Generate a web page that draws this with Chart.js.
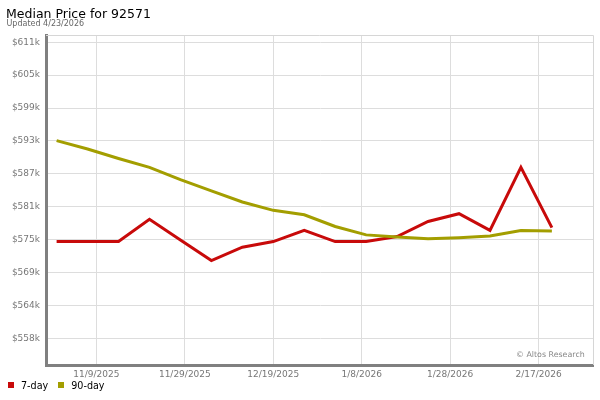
<!DOCTYPE html>
<html>
<head>
<meta charset="utf-8">
<script src="https://cdn.jsdelivr.net/npm/chart.js@4.4.1/dist/chart.umd.min.js"></script>
<style>
  html, body { margin: 0; padding: 0; background: #fff; }
  #wrap { position: relative; width: 600px; height: 400px; font-family: 'DejaVu Sans', sans-serif; }
  #chart { position: absolute; left: 0; top: 0; }
  .title { position: absolute; left: 6px; top: 7.7px; font-size: 12.5px; line-height: 1; color: #000; white-space: nowrap; }
  .subtitle { position: absolute; left: 6.5px; top: 20px; font-size: 8px; line-height: 1; color: #666; white-space: nowrap; }
  .legend { position: absolute; left: 8px; top: 380.5px; font-size: 9.6px; line-height: 1; color: #000; display: flex; white-space: nowrap; }
  .legend .item { display: flex; align-items: center; margin-right: 10px; }
  .legend .box { display: inline-block; width: 6px; height: 6px; margin-right: 7px; }
  .credit { position: absolute; left: 516px; top: 350.5px; font-size: 7.9px; line-height: 1; color: #888; white-space: nowrap; }
</style>
</head>
<body>
<div id="wrap">
  <canvas id="chart" width="600" height="400"></canvas>
  <div class="title">Median Price for 92571</div>
  <div class="subtitle">Updated 4/23/2026</div>
  <div class="legend" id="legend"></div>
  <div class="credit">&copy; Altos Research</div>
</div>
<script>
const pointDates = ['10/31/2025', '11/7/2025', '11/14/2025', '11/21/2025', '11/28/2025', '12/5/2025',
    '12/12/2025', '12/19/2025', '12/26/2025', '1/2/2026', '1/9/2026', '1/16/2026', '1/23/2026',
    '1/30/2026', '2/6/2026', '2/13/2026', '2/20/2026'];
const sevenDay = [575000, 575000, 575000, 579000, 575300, 571600, 574000, 575000, 577000,
    575000, 575000, 575900, 578600, 580000, 577000, 588300, 577500];
const ninetyDay = [593100, 591600, 589900, 588300, 586100, 584100, 582100, 580600, 579800,
    577700, 576200, 575800, 575500, 575700, 576000, 577000, 576900];
const seriesNames = ['7-day', '90-day'];
const seriesColors = ['#c80a0a', '#a39e00'];

const xTickLabels = ['11/9/2025', '11/29/2025', '12/19/2025', '1/8/2026', '1/28/2026', '2/17/2026'];
const yTickValues = [557650, 563550, 569450, 575350, 581250, 587150, 593050, 598950, 604850, 610750];
const yTickLabels = ['$558k', '$564k', '$569k', '$575k', '$581k', '$587k', '$593k', '$599k', '$605k', '$611k'];

function toDay(s) {
    const [m, d, y] = s.split('/').map(Number);
    return Date.UTC(y, m - 1, d) / 86400000;
}

const xTickDays = xTickLabels.map(toDay);
const pointDays = pointDates.map(toDay);

const frame = {
    id: 'frame',
    beforeDatasetsDraw(chart) {
        const { ctx, chartArea: a } = chart;
        ctx.save();
        ctx.strokeStyle = '#d6d6d6';
        ctx.lineWidth = 1;
        ctx.beginPath();
        ctx.moveTo(a.left, a.top + 0.5);
        ctx.lineTo(a.right + 0.5, a.top + 0.5);
        ctx.lineTo(a.right + 0.5, a.bottom);
        ctx.stroke();
        ctx.restore();
    }
};

const tickFont = { family: 'DejaVu Sans', size: 9 };

const ctx = document.getElementById('chart').getContext('2d');
const chart = new Chart(ctx, {
    type: 'line',
    data: {
        datasets: [sevenDay, ninetyDay].map((vals, i) => ({
            label: seriesNames[i],
            data: vals.map((v, j) => ({ x: pointDays[j], y: v })),
            borderColor: seriesColors[i],
            backgroundColor: seriesColors[i],
            borderWidth: 3,
            pointRadius: 0,
            tension: 0,
            fill: false
        })).reverse()
    },
    options: {
        responsive: false,
        animation: false,
        devicePixelRatio: 1,
        layout: { padding: { top: 35, right: 7, bottom: 0, left: 0 } },
        plugins: { legend: { display: false }, tooltip: { enabled: false } },
        scales: {
            x: {
                type: 'linear',
                min: xTickDays[0] - 11.4,
                max: xTickDays[0] + 112.3,
                afterBuildTicks: (s) => { s.ticks = xTickDays.map(v => ({ value: v })); },
                afterFit: (s) => { s.height = 35; },
                grid: { color: '#dddddd', drawTicks: false },
                border: { color: '#808080', width: 3 },
                ticks: {
                    font: tickFont,
                    color: '#777',
                    padding: 4,
                    maxRotation: 0,
                    autoSkip: false,
                    callback: (v) => xTickLabels[xTickDays.indexOf(v)]
                }
            },
            y: {
                type: 'linear',
                min: 552870,
                max: 612040,
                afterBuildTicks: (s) => { s.ticks = yTickValues.map(v => ({ value: v })); },
                afterFit: (s) => { s.width = 46; },
                grid: { color: '#dddddd', drawTicks: false },
                border: { color: '#808080', width: 3 },
                ticks: {
                    font: tickFont,
                    color: '#777',
                    padding: 6,
                    autoSkip: false,
                    callback: (v) => yTickLabels[yTickValues.indexOf(v)]
                }
            }
        }
    },
    plugins: [frame]
});

const legend = document.getElementById('legend');
seriesNames.forEach((name, i) => {
    const item = document.createElement('span');
    item.className = 'item';
    item.innerHTML = `<span class="box" style="background:${seriesColors[i]}"></span>${name}`;
    legend.appendChild(item);
});
</script>
</body>
</html>
